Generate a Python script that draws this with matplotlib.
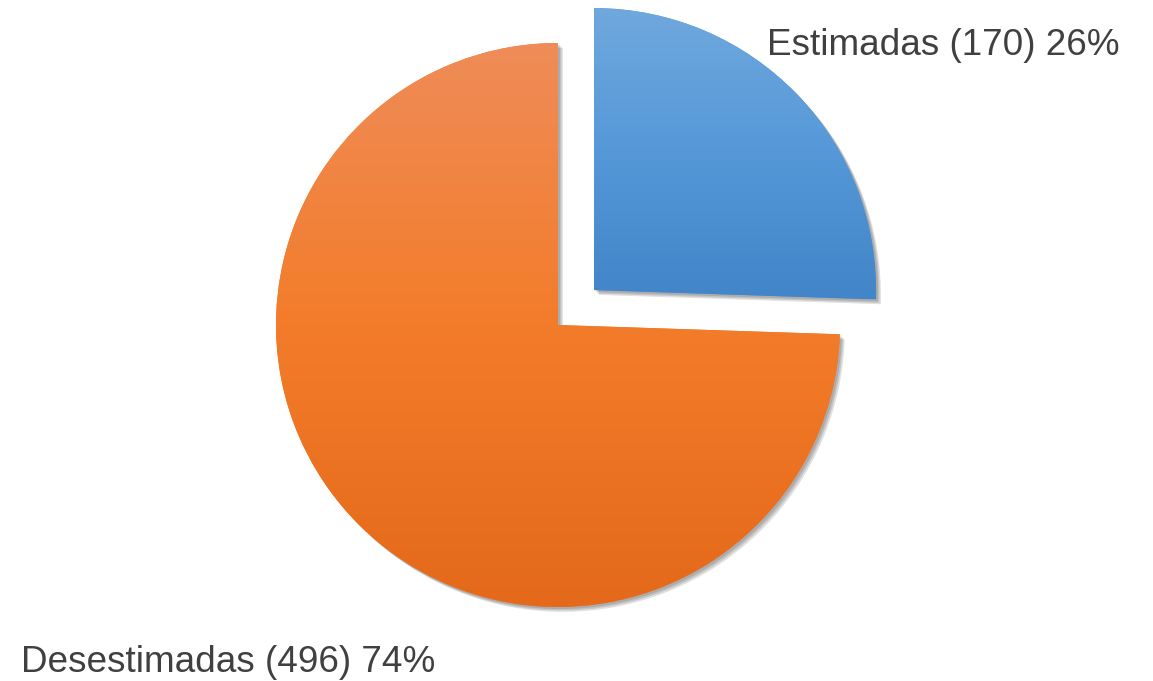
import numpy as np
import matplotlib
matplotlib.use("Agg")
import matplotlib.pyplot as plt
import matplotlib.patheffects as pe
from matplotlib.colors import LinearSegmentedColormap

# data
labels = ["Estimadas", "Desestimadas"]
counts = [170, 496]
explode = [0.178, 0.0]   # fraction of radius
# gradient colours (bottom, middle, top) per slice
grad_colors = [("#4285c8", "#5598d8", "#70a8dd"),
               ("#e4691a", "#f37c2a", "#ef8c58")]

W, H = 1153, 681
fig = plt.figure(figsize=(W / 100, H / 100), dpi=100)
ax = fig.add_axes([0, 0, 1, 1])

center = (558, H - 325)
radius = 282

wedges, _ = ax.pie(counts, explode=[e * radius for e in explode], startangle=90,
                   counterclock=False, center=center, radius=radius,
                   colors=[c[1] for c in grad_colors], frame=True)
ax.set_xlim(0, W)
ax.set_ylim(0, H)
ax.set_aspect("equal")
ax.axis("off")

# soft drop shadow
shadow = [pe.SimplePatchShadow(offset=(d, -d), shadow_rgbFace="k", alpha=0.12)
          for d in (3.5, 2.5, 1.5)]

for w, stops in zip(wedges, grad_colors):
    w.set_path_effects(shadow + [pe.Normal()])
    bb = w.get_path().get_extents(w.get_patch_transform())
    cmap = LinearSegmentedColormap.from_list("g", list(stops))
    grad = np.linspace(0, 1, 256).reshape(-1, 1)
    im = ax.imshow(grad, cmap=cmap, origin="lower", aspect="auto",
                   extent=[bb.x0, bb.x1, bb.y0, bb.y1], zorder=w.get_zorder() + 0.1)
    im.set_clip_path(w)

total = sum(counts)
pcts = [round(100 * c / total) for c in counts]

txt = dict(fontsize=26.6, color="#404040", family=["Liberation Sans", "DejaVu Sans"])
ax.text(767, H - 55, f"{labels[0]} ({counts[0]}) {pcts[0]}%", ha="left", va="baseline", **txt)
ax.text(21, H - 672, f"{labels[1]} ({counts[1]}) {pcts[1]}%", ha="left", va="baseline", **txt)

fig.savefig("out.png", dpi=100)
